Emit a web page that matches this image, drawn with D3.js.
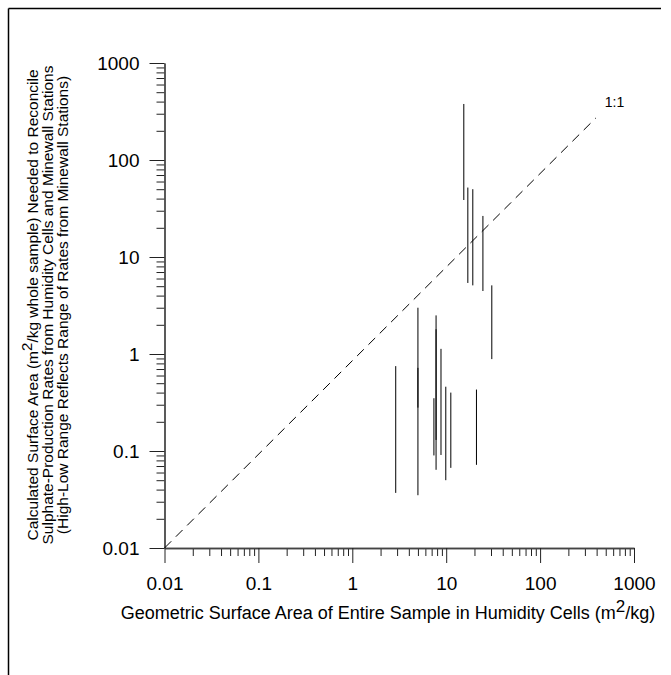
<!DOCTYPE html>
<head>
  <meta charset="utf-8">
  <script src="https://d3js.org/d3.v7.min.js"></script>
  <style>
    body { margin:0; background:#fff; }
    text { font-family: "Liberation Sans", Arial, sans-serif; fill:#000; }
  </style>
</head>
<body>
<div id="figure"></div>
<script>
// high-low ranges
var sampleArea = [2.9, 5.0, 5.0, 7.8, 7.8, 7.4, 8.8, 9.9, 11.2, 21, 15.4, 17.0, 19.2, 24.6, 30.6];
var rangeHigh  = [0.75, 3.0, 0.72, 2.5, 1.8, 0.35, 1.13, 0.46, 0.40, 0.43, 378, 52, 50, 26.5, 5.1];
var rangeLow   = [0.037, 0.035, 0.28, 0.064, 0.13, 0.09, 0.091, 0.05, 0.067, 0.072, 38.7, 5.4, 5.1, 4.46, 0.886];

var majorTicks = [0.01, 0.1, 1, 10, 100, 1000];
var tickLabels = ["0.01", "0.1", "1", "10", "100", "1000"];

// 1:1 reference line as drawn
var refX = [0.01, 392];
var refY = [0.01, 271];

var yTitle = [
  "Calculated Surface Area (m|2|/kg whole sample) Needed to Reconcile",
  "Sulphate-Production Rates from Humidity Cells and Minewall Stations",
  "(High-Low Range Reflects Range of Rates from Minewall Stations)"
];

var width = 671, height = 675;

var svg = d3.select("#figure").append("svg")
  .attr("width", width)
  .attr("height", height);

// frame (top and left only)
svg.append("line").attr("x1", 8.5).attr("x2", 661).attr("y1", 8.5).attr("y2", 8.5)
  .attr("stroke", "#000").attr("stroke-width", 1.5);
svg.append("line").attr("x1", 8.5).attr("x2", 8.5).attr("y1", 8.5).attr("y2", height)
  .attr("stroke", "#000").attr("stroke-width", 1.5);

var x = d3.scaleLog().domain([0.01, 1000]).range([164.5, 634]);
var y = d3.scaleLog().domain([0.01, 1000]).range([548, 63]);

var fmt = function(d) { return tickLabels[majorTicks.indexOf(d)]; };
var minor = x.ticks().filter(function(d) { return majorTicks.indexOf(d) < 0; });

// x axis
svg.append("g").attr("transform", "translate(0,548)")
  .call(d3.axisBottom(x).tickValues(minor).tickSize(8).tickSizeOuter(0).tickFormat(""));
svg.append("g").attr("class", "major").attr("transform", "translate(0,548)")
  .call(d3.axisBottom(x).tickValues(majorTicks).tickSize(15).tickSizeOuter(0)
    .tickPadding(14).tickFormat(fmt));

// y axis
svg.append("g").attr("transform", "translate(164.5,0)")
  .call(d3.axisLeft(y).tickValues(minor).tickSize(8).tickSizeOuter(0).tickFormat(""));
svg.append("g").attr("class", "major").attr("transform", "translate(164.5,0)")
  .call(d3.axisLeft(y).tickValues(majorTicks).tickSize(15).tickSizeOuter(0)
    .tickPadding(10).tickFormat(fmt));

svg.selectAll(".domain").attr("stroke", "#444").attr("stroke-width", 1.3);
svg.selectAll(".tick line").attr("stroke", "#222");
svg.selectAll(".major text").style("font-size", "19px")
  .style("font-family", "'Liberation Sans', Arial, sans-serif");

// 1:1 line
svg.append("line")
  .attr("x1", x(refX[0])).attr("y1", y(refY[0]))
  .attr("x2", x(refX[1])).attr("y2", y(refY[1]))
  .attr("stroke", "#000").attr("stroke-width", 1)
  .attr("stroke-dasharray", "9.5,6.5");

svg.append("text")
  .attr("x", x(refX[1]) + 9)
  .attr("y", y(refY[1]) - 11)
  .style("font-size", "14px")
  .text("1:1");

// range bars
svg.selectAll(".range").data(sampleArea).enter().append("line")
  .attr("class", "range")
  .attr("x1", function(d) { return x(d); })
  .attr("x2", function(d) { return x(d); })
  .attr("y1", function(d, i) { return y(rangeHigh[i]); })
  .attr("y2", function(d, i) { return y(rangeLow[i]); })
  .attr("stroke", "#000")
  .attr("stroke-width", 1);

// x title
var xt = svg.append("text")
  .attr("x", 388).attr("y", 619)
  .attr("text-anchor", "middle")
  .style("font-size", "18px");
xt.append("tspan").text("Geometric Surface Area of Entire Sample in Humidity Cells (m");
xt.append("tspan").attr("dy", -7).style("font-size", "17px").text("2");
xt.append("tspan").attr("dy", 7).text("/kg)");

// y title, three rotated lines
yTitle.forEach(function(line, i) {
  var t = svg.append("text")
    .attr("transform", "translate(" + (38 + i * 15) + ",305) rotate(-90)")
    .attr("text-anchor", "middle")
    .style("font-size", "15.5px");
  var parts = line.split("|");
  t.append("tspan").text(parts[0]);
  if (parts.length > 1) {
    t.append("tspan").attr("dy", -6).style("font-size", "15px").text(parts[1]);
    t.append("tspan").attr("dy", 6).text(parts[2]);
  }
});
</script>
</body>
